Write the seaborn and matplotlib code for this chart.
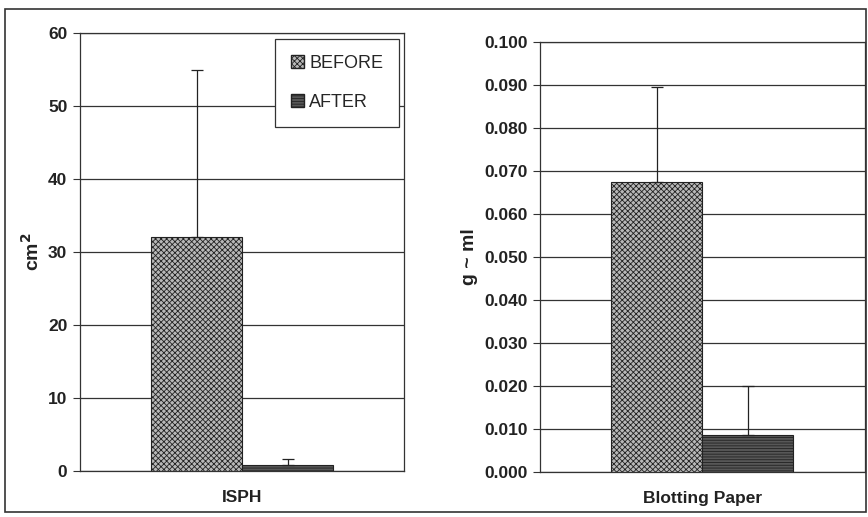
import matplotlib
matplotlib.use('Agg')
import matplotlib.pyplot as plt
import seaborn as sns
import pandas as pd
from matplotlib.patches import Rectangle, Patch

# data
periods = ['BEFORE', 'AFTER']
isph_vals = [32.0, 0.8]
isph_err = [23.0, 0.8]
paper_vals = [0.0675, 0.0085]
paper_err = [0.022, 0.0115]

sns.set_style('white')
plt.rcParams['font.family'] = ['Liberation Sans', 'DejaVu Sans']
plt.rcParams['hatch.linewidth'] = 0.6

fills = {'BEFORE': '#b8b8b8', 'AFTER': '#575757'}
hatches = {'BEFORE': 'xxxxxx', 'AFTER': '------'}

fig = plt.figure(figsize=(8.68, 5.17), dpi=100)
fig.patches.append(Rectangle((5 / 868, 5 / 517), 861 / 868, 503 / 517,
                             transform=fig.transFigure, fill=False,
                             edgecolor='#333333', linewidth=1.2))

ax1 = fig.add_axes([0.092, 0.089, 0.374, 0.847])
ax2 = fig.add_axes([0.622, 0.087, 0.374, 0.832])


def draw_panel(ax, cat, vals, errs, ylim, ticks, fmt, ylabel):
    df = pd.DataFrame({'cat': [cat] * 2, 'period': periods, 'val': vals})
    sns.barplot(data=df, x='cat', y='val', hue='period', hue_order=periods,
                ax=ax, width=0.56, errorbar=None, legend=False,
                palette=fills, edgecolor='#222222', linewidth=0.8, zorder=3)
    ax.set_xlim(-0.5, 0.5)
    bars = [p for p in ax.patches if p.get_height() > 0]
    for bar, per, v, e in zip(bars, periods, vals, errs):
        bar.set_hatch(hatches[per])
        ax.errorbar(bar.get_x() + bar.get_width() / 2, v, yerr=[[0], [e]],
                    fmt='none', ecolor='#222222', elinewidth=0.9,
                    capsize=4, capthick=0.9, zorder=4)
    ax.set_ylim(*ylim)
    ax.set_yticks(ticks)
    ax.set_yticklabels([fmt.format(t) for t in ticks], fontsize=12.5, fontweight='bold', color='#222222')
    ax.set_xticks([0])
    ax.set_xticklabels([cat], fontsize=12.5, fontweight='bold', color='#222222')
    ax.tick_params(axis='y', left=True, length=5, width=0.8, color='#333333', pad=4)
    ax.tick_params(axis='x', bottom=False, pad=10)
    ax.set_xlabel('')
    ax.set_ylabel(ylabel, fontsize=14, fontweight='bold', color='#222222', labelpad=4)
    ax.yaxis.grid(True, color='#333333', linewidth=0.9)
    ax.set_axisbelow(True)
    for s in ax.spines.values():
        s.set_color('#333333')
        s.set_linewidth(0.9)


draw_panel(ax1, 'ISPH', isph_vals, isph_err, (0, 60), [0, 10, 20, 30, 40, 50, 60],
           '{:.0f}', 'cm$^\\mathbf{2}$')
draw_panel(ax2, 'Blotting Paper', paper_vals, paper_err, (0, 0.1),
           [i / 100 for i in range(11)], '{:.3f}', 'g ~ ml')

handles = [Patch(facecolor=fills[p], edgecolor='#222222', hatch=hatches[p], label=p)
           for p in periods]
leg = ax1.legend(handles=handles, loc='upper right', bbox_to_anchor=(0.995, 0.995),
                 fancybox=False, framealpha=1, edgecolor='#333333',
                 prop={'size': 13}, handlelength=0.7, handleheight=0.7,
                 handletextpad=0.3, labelspacing=1.2, borderpad=0.9,
                 borderaxespad=0.2)
leg.get_frame().set_linewidth(0.9)
leg._legend_box.align = 'left'

fig.savefig('out.png', dpi=100)
